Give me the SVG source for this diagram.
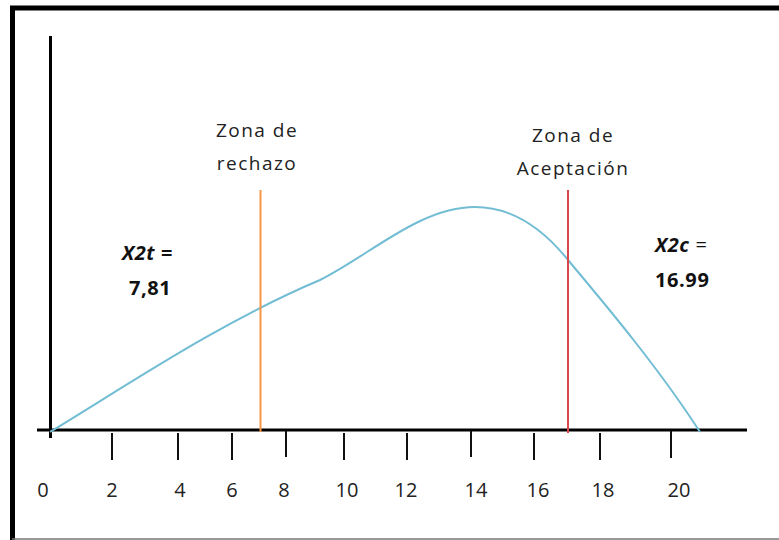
<svg xmlns="http://www.w3.org/2000/svg" width="779" height="540" viewBox="0 0 779 540">
<style>
.lbl{font-family:"Open Sans","Liberation Sans",sans-serif;font-size:20px;fill:#222;text-anchor:middle}
.zone{font-family:"Open Sans","Liberation Sans",sans-serif;font-size:19px;fill:#222;text-anchor:middle;letter-spacing:1.5px}
.val{font-family:"Open Sans","Liberation Sans",sans-serif;font-size:20px;font-weight:bold;fill:#111;letter-spacing:0.6px}
.tick{stroke:#111;stroke-width:2}
</style>
<rect width="779" height="540" fill="#fff"/>
<g id="frame">
<line x1="10" y1="8" x2="779" y2="8" stroke="#000" stroke-width="5"/>
<line x1="12.5" y1="6" x2="12.5" y2="540" stroke="#000" stroke-width="5"/>
<line x1="12" y1="539" x2="779" y2="539" stroke="#777" stroke-width="1.5"/>
</g>
<g id="axes">
<line x1="50.5" y1="36" x2="50.5" y2="438" stroke="#000" stroke-width="3"/>
<line x1="37" y1="430" x2="747" y2="430" stroke="#000" stroke-width="3"/>
</g>
<g id="ticks">
<line class="tick" x1="112" y1="433" x2="112" y2="460"/>
<line class="tick" x1="178" y1="433" x2="178" y2="460"/>
<line class="tick" x1="232" y1="433" x2="232" y2="460"/>
<line class="tick" x1="286" y1="431" x2="286" y2="457"/>
<line class="tick" x1="344" y1="433" x2="344" y2="460"/>
<line class="tick" x1="407" y1="433" x2="407" y2="460"/>
<line class="tick" x1="471" y1="431" x2="471" y2="457"/>
<line class="tick" x1="534" y1="433" x2="534" y2="460"/>
<line class="tick" x1="600" y1="433" x2="600" y2="460"/>
<line class="tick" x1="671" y1="431" x2="671" y2="458"/>
</g>
<g id="tick-labels">
<text class="lbl" x="43" y="497">0</text>
<text class="lbl" x="112" y="497">2</text>
<text class="lbl" x="180" y="497">4</text>
<text class="lbl" x="232" y="497">6</text>
<text class="lbl" x="284" y="497">8</text>
<text class="lbl" x="347" y="497">10</text>
<text class="lbl" x="406" y="497">12</text>
<text class="lbl" x="476" y="497">14</text>
<text class="lbl" x="538" y="497">16</text>
<text class="lbl" x="603" y="497">18</text>
<text class="lbl" x="679" y="497">20</text>
</g>
<g id="curve">
<path d="M50,432 C120,390 220,322 320,280 C370,255 420,207 475,207 C510,207 540,225 568,260 C610,310 660,370 700,432" fill="none" stroke="#72BDD4" stroke-width="2"/>
</g>
<g id="rechazo">
<line x1="260.5" y1="190" x2="260.5" y2="432" stroke="#F79646" stroke-width="2"/>
<text class="zone" x="257" y="137">Zona de</text>
<text class="zone" x="257" y="170">rechazo</text>
</g>
<g id="aceptacion">
<line x1="568" y1="190" x2="568" y2="433" stroke="#D9474B" stroke-width="2"/>
<text class="zone" x="573" y="142">Zona de</text>
<text class="zone" x="573" y="175">Aceptación</text>
</g>
<g id="x2t">
<text class="val" x="122" y="260"><tspan font-style="italic">X2t</tspan> =</text>
<text class="val" x="129" y="295">7,81</text>
</g>
<g id="x2c">
<text class="val" x="655" y="252"><tspan font-style="italic">X2c</tspan>  <tspan font-weight="normal">=</tspan></text>
<text class="val" x="655" y="287">16.99</text>
</g>
</svg>
